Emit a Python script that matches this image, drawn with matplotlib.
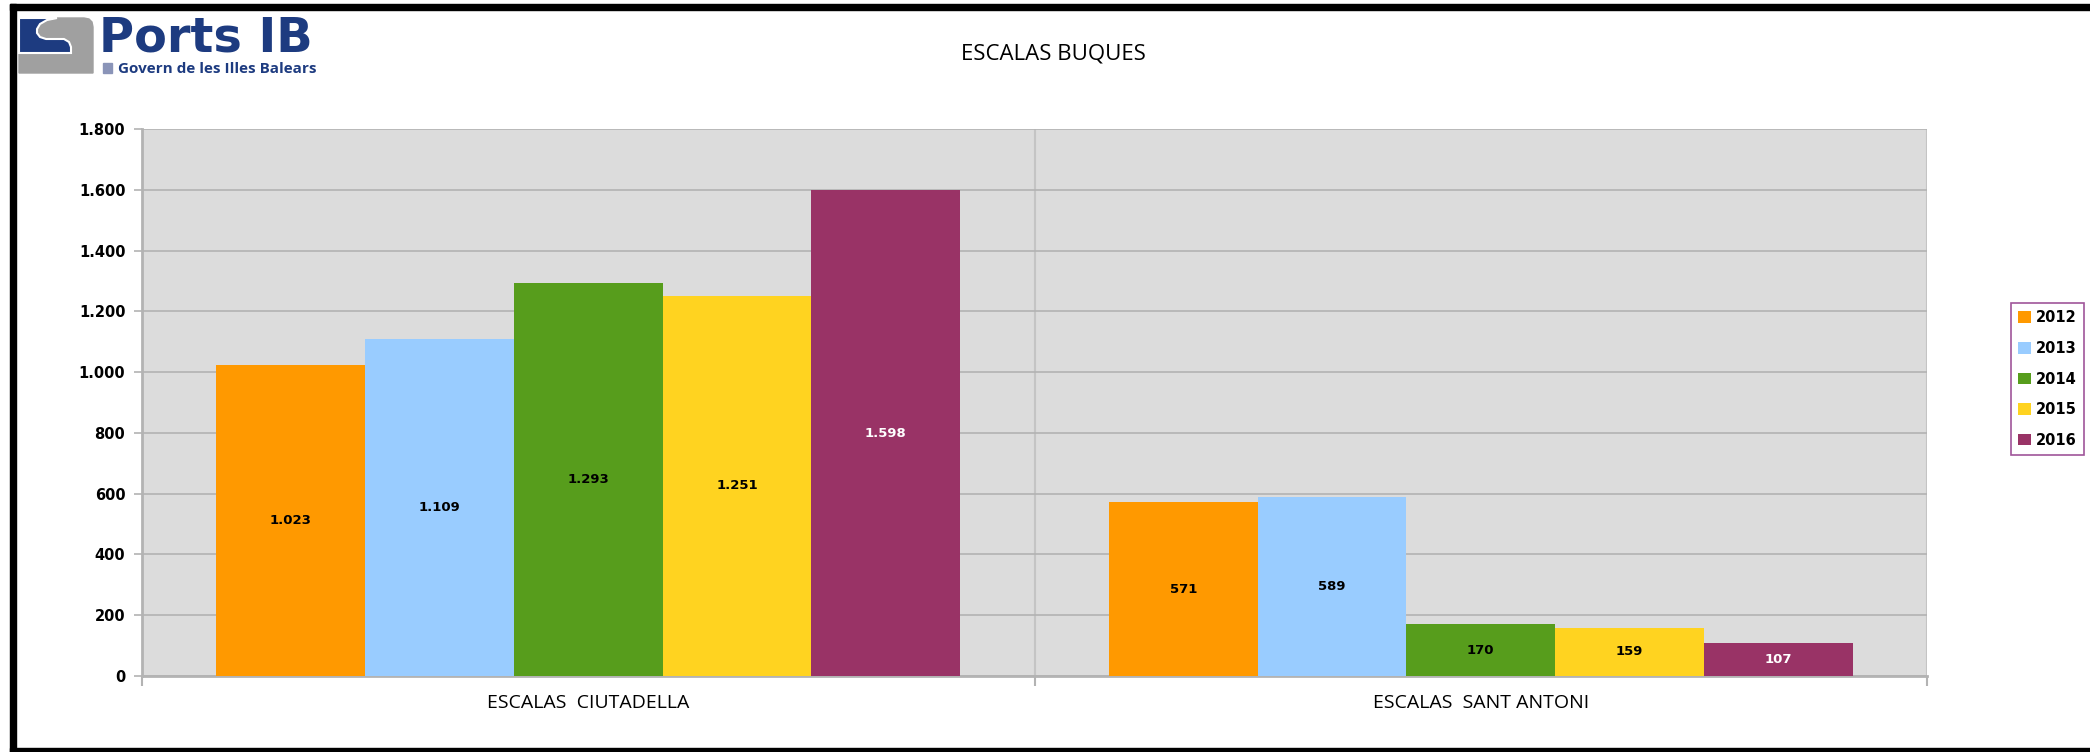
import matplotlib.pyplot as plt
from matplotlib.patches import Rectangle, Polygon
from matplotlib.ticker import FuncFormatter

# datos
categorias = ["ESCALAS  CIUTADELLA", "ESCALAS  SANT ANTONI"]
anos = ["2012", "2013", "2014", "2015", "2016"]
escalas_2012 = [1023, 571]
escalas_2013 = [1109, 589]
escalas_2014 = [1293, 170]
escalas_2015 = [1251, 159]
escalas_2016 = [1598, 107]
series = [escalas_2012, escalas_2013, escalas_2014, escalas_2015, escalas_2016]
colores = ["#ff9900", "#99ccff", "#579d1c", "#ffd320", "#993366"]
color_etiqueta = ["black", "black", "black", "black", "white"]


def miles(v):
    return f"{int(round(v)):,}".replace(",", ".")


fig = plt.figure(figsize=(20.9, 7.52), dpi=100)

# marco y logo en coordenadas de pixel
bg = fig.add_axes([0, 0, 1, 1])
bg.set_xlim(0, 2090)
bg.set_ylim(752, 0)
bg.axis("off")
bg.add_patch(Rectangle((10, 4), 2080, 6, color="black"))
bg.add_patch(Rectangle((10, 4), 6, 748, color="black"))
bg.add_patch(Rectangle((10, 748), 2080, 4, color="black"))

navy = "#1d3b80"
gris = "#a0a0a0"
bg.add_patch(Polygon([(19, 18), (84, 18), (89, 19), (92, 22), (93, 27), (93, 73), (19, 73)],
                     closed=True, color=gris))
bg.add_patch(Polygon([(19, 18), (57, 18), (47, 20), (40, 24), (37, 29), (37, 33), (40, 37), (46, 39),
                      (64, 39), (69, 42), (71, 47), (71, 53), (19, 53)],
                     closed=True, facecolor=navy, edgecolor="white", linewidth=1.5))
bg.text(99, 52, "Ports IB", fontsize=34.5, fontweight="bold", color=navy,
        family="DejaVu Sans", va="baseline", ha="left")
bg.add_patch(Rectangle((103, 63), 9, 10, color="#8a94b8"))
bg.text(118, 69, "Govern de les Illes Balears", fontsize=11, fontweight="bold", color=navy,
        family="Open Sans", va="center", ha="left")

fig.text(1053 / 2090, 1 - 54 / 752, "ESCALAS BUQUES", fontsize=16, family="Open Sans",
         ha="center", va="center")

ax = fig.add_axes([142 / 2090, 1 - 676 / 752, (1927 - 142) / 2090, (676 - 129) / 752])
ax.set_facecolor("#dcdcdc")

ancho = 1 / 6
x = range(len(categorias))
for i, (vals, col, lab) in enumerate(zip(series, colores, anos)):
    pos = [xi + (i - 2) * ancho for xi in x]
    barras = ax.bar(pos, vals, width=ancho, color=col, label=lab, zorder=3)
    for b, v in zip(barras, vals):
        ax.text(b.get_x() + b.get_width() / 2, v / 2, miles(v), ha="center", va="center",
                fontsize=9.5, fontweight="bold", color=color_etiqueta[i], zorder=4)

ax.set_xlim(-0.5, 1.5)
ax.set_ylim(0, 1800)
ax.set_yticks(range(0, 1801, 200))
ax.yaxis.set_major_formatter(FuncFormatter(lambda v, p: miles(v)))
ax.grid(axis="y", color="#b3b3b3", linewidth=1.2, zorder=1)

ax.set_xticks([0, 1])
ax.set_xticklabels(categorias, fontsize=14, family="Open Sans")
ax.set_xticks([-0.5, 0.5, 1.5], minor=True)
ax.tick_params(axis="x", which="major", length=0, pad=13)
ax.tick_params(axis="x", which="minor", length=7, width=1.5, color="#b3b3b3")
ax.grid(axis="x", which="minor", color="#c4c4c4", linewidth=1.5, zorder=1)
ax.tick_params(axis="y", length=6, width=1.2, color="#b3b3b3", pad=6, labelsize=10.5)
for t in ax.get_yticklabels():
    t.set_fontweight("bold")

for s in ["top", "right"]:
    ax.spines[s].set_visible(False)
for s in ["left", "bottom"]:
    ax.spines[s].set_color("#b3b3b3")
    ax.spines[s].set_linewidth(2)

ley = fig.legend(loc="upper left", bbox_to_anchor=(2011 / 2090, 1 - 303 / 752),
                 prop={"weight": "bold", "size": 10.5}, handlelength=0.85, handleheight=0.85,
                 handletextpad=0.35, labelspacing=1.07, borderpad=0.5, fancybox=False,
                 framealpha=1, edgecolor="#a0559a", borderaxespad=0)
ley.get_frame().set_linewidth(1.2)

fig.savefig("out.png", dpi=100)
